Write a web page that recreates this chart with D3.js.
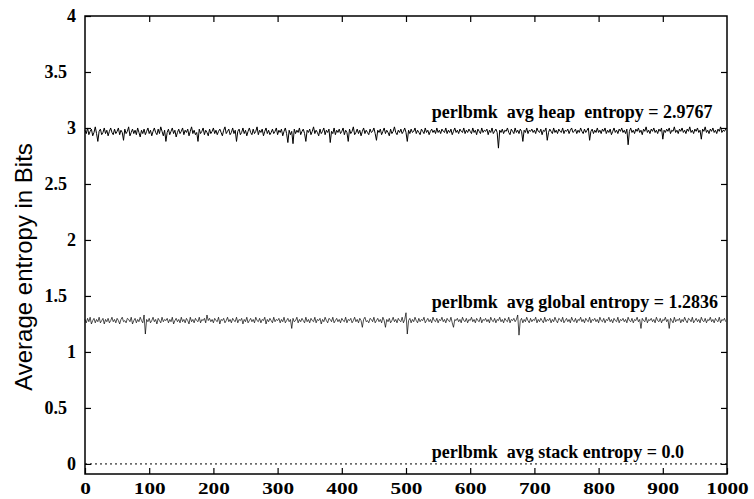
<!DOCTYPE html>
<html>
<head>
<meta charset="utf-8">
<script src="https://cdn.jsdelivr.net/npm/d3@7"></script>
<style>
  body { margin: 0; background: #fff; }
  svg { display: block; }
</style>
</head>
<body>
<div id="chart"></div>
<script>
'use strict';

// one sample every 2 units on the x axis (x = i * sampleStep)
var sampleStep = 2;

var heapValues = [
  2.98,2.95,3.00,2.94,2.97,2.99,2.93,2.96,3.01,2.95,2.88,2.97,2.99,2.94,2.96,3.00,2.95,2.98,2.93,2.97,3.00,2.96,2.94,2.99,2.95,
  2.97,3.00,2.94,2.98,2.96,2.89,2.99,2.95,2.97,3.01,2.93,2.96,2.99,2.95,2.98,2.94,3.00,2.96,2.92,2.98,2.95,2.99,2.94,2.97,3.00,
  2.95,2.98,2.93,2.97,3.00,2.96,2.94,2.99,2.95,3.01,2.97,2.93,2.98,2.88,2.96,2.99,2.94,2.97,3.00,2.95,2.98,2.92,2.96,2.99,2.95,
  2.97,3.00,2.94,2.98,2.96,2.99,2.93,2.97,3.01,2.95,2.98,2.94,2.96,2.88,2.99,2.95,2.97,3.00,2.94,2.98,2.96,2.93,2.99,2.95,2.97,
  3.00,2.95,2.98,2.94,2.97,2.99,2.96,2.93,2.98,3.01,2.95,2.97,2.99,2.94,2.96,3.00,2.95,2.98,2.88,2.97,2.99,2.94,2.96,3.00,2.95,
  2.98,2.93,2.97,3.00,2.96,2.94,2.99,2.95,2.97,3.01,2.94,2.98,2.96,2.99,2.93,2.97,3.00,2.95,2.98,2.94,2.96,2.99,2.95,2.97,3.00,
  2.94,2.98,2.96,2.99,2.93,2.97,3.00,2.95,2.87,2.98,2.94,2.97,2.86,2.99,2.95,2.98,2.96,3.00,2.94,2.97,2.99,2.95,2.88,2.98,2.96,
  2.99,2.94,2.97,3.01,2.95,2.98,2.96,2.93,2.99,2.95,2.97,3.00,2.94,2.98,2.96,2.99,2.87,2.97,2.95,3.00,2.94,2.98,2.96,2.99,2.95,
  2.97,3.00,2.94,2.98,2.96,2.88,2.99,2.95,2.97,3.01,2.94,2.96,2.99,2.95,2.98,2.93,2.97,3.00,2.95,2.98,2.96,2.94,2.99,2.96,2.97,
  3.00,2.95,2.89,2.98,2.96,2.99,2.94,2.97,3.00,2.95,2.98,2.96,2.93,2.99,2.95,2.97,3.01,2.96,2.94,2.98,2.96,2.99,2.95,2.97,3.00,
  2.96,2.88,2.98,2.95,2.99,2.96,2.97,3.00,2.95,2.98,2.96,2.94,2.99,2.97,2.95,3.00,2.96,2.98,2.94,2.97,2.99,2.96,2.98,2.95,3.00,
  2.96,2.98,2.95,2.99,2.97,2.96,3.00,2.95,2.98,2.96,2.99,2.94,2.97,3.00,2.96,2.98,2.95,2.99,2.97,2.96,3.00,2.95,2.98,2.96,2.99,
  2.97,2.95,3.00,2.96,2.98,2.94,2.99,2.97,2.95,3.00,2.96,2.98,2.97,2.99,2.94,2.98,2.96,3.00,2.95,2.97,2.99,2.96,2.82,2.98,2.96,
  2.99,2.95,2.98,2.97,3.00,2.96,2.94,2.99,2.97,2.95,3.00,2.96,2.98,2.95,2.99,2.97,2.88,2.98,2.96,3.00,2.95,2.98,2.97,2.99,2.96,
  2.98,2.95,3.00,2.97,2.96,2.99,2.94,2.98,2.97,3.00,2.89,2.96,2.99,2.97,2.95,3.00,2.96,2.98,2.95,2.99,2.97,2.96,3.00,2.95,2.98,
  2.97,2.99,2.95,2.98,3.00,2.96,2.97,2.99,2.95,2.98,2.96,3.00,2.97,2.95,2.99,2.96,2.98,3.00,2.89,2.97,2.99,2.95,2.98,2.96,3.00,
  2.96,2.98,2.95,2.99,2.97,3.00,2.95,2.98,2.96,2.99,2.94,2.97,3.00,2.96,2.98,2.95,2.99,2.97,3.00,2.96,2.98,2.95,2.99,2.85,2.97,
  3.00,2.96,2.98,2.95,2.99,2.97,3.00,2.96,2.98,2.94,2.99,2.97,3.01,2.96,2.98,2.95,2.99,2.97,3.00,2.96,2.98,2.95,2.99,2.97,3.00,
  2.90,2.98,2.96,2.99,2.97,3.00,2.95,2.98,2.97,3.01,2.96,2.98,2.95,2.99,2.97,3.00,2.96,2.98,2.95,2.99,2.97,3.01,2.96,2.98,2.95,
  2.99,2.97,3.00,2.96,2.98,2.90,2.99,2.97,3.01,2.96,2.98,2.95,2.99,2.97,3.00,2.96,2.98,2.95,2.99,2.97,3.01,2.96,2.98,2.97,2.99
];

var globalValues = [
  1.29,1.26,1.30,1.27,1.31,1.25,1.28,1.30,1.26,1.29,1.27,1.31,1.26,1.28,1.30,1.25,1.29,1.27,1.30,1.26,1.28,1.31,1.27,1.29,1.26,
  1.30,1.28,1.25,1.29,1.31,1.27,1.28,1.26,1.30,1.29,1.27,1.31,1.25,1.28,1.30,1.26,1.29,1.27,1.31,1.28,1.26,1.33,1.16,1.29,1.27,
  1.30,1.26,1.28,1.31,1.27,1.29,1.25,1.30,1.28,1.26,1.31,1.27,1.29,1.28,1.30,1.26,1.29,1.27,1.31,1.25,1.28,1.30,1.27,1.29,1.26,
  1.31,1.27,1.29,1.26,1.30,1.28,1.25,1.31,1.27,1.29,1.26,1.30,1.28,1.27,1.31,1.26,1.29,1.28,1.30,1.26,1.33,1.28,1.30,1.27,1.29,
  1.26,1.30,1.28,1.27,1.31,1.25,1.29,1.28,1.30,1.26,1.28,1.31,1.27,1.29,1.26,1.30,1.28,1.27,1.31,1.26,1.29,1.28,1.30,1.25,1.29,
  1.27,1.31,1.26,1.28,1.30,1.27,1.29,1.26,1.31,1.28,1.27,1.30,1.26,1.29,1.28,1.31,1.25,1.29,1.27,1.30,1.28,1.26,1.31,1.27,1.29,
  1.28,1.30,1.26,1.29,1.27,1.31,1.26,1.28,1.30,1.27,1.29,1.21,1.30,1.27,1.28,1.31,1.26,1.29,1.27,1.30,1.28,1.26,1.31,1.27,1.29,
  1.26,1.30,1.28,1.27,1.31,1.26,1.29,1.28,1.30,1.25,1.29,1.27,1.31,1.28,1.26,1.30,1.29,1.27,1.31,1.26,1.28,1.30,1.27,1.29,1.26,
  1.30,1.28,1.27,1.31,1.26,1.29,1.28,1.30,1.26,1.28,1.31,1.27,1.29,1.26,1.30,1.28,1.22,1.29,1.31,1.27,1.28,1.26,1.30,1.29,1.27,
  1.31,1.26,1.28,1.30,1.27,1.29,1.26,1.31,1.28,1.22,1.29,1.27,1.30,1.26,1.28,1.31,1.27,1.29,1.26,1.30,1.28,1.27,1.31,1.26,1.29,
  1.35,1.16,1.28,1.30,1.26,1.29,1.27,1.31,1.28,1.26,1.30,1.27,1.29,1.28,1.31,1.26,1.28,1.30,1.27,1.29,1.26,1.31,1.28,1.27,1.30,
  1.26,1.29,1.28,1.31,1.27,1.29,1.26,1.30,1.28,1.27,1.31,1.26,1.22,1.29,1.28,1.30,1.27,1.29,1.26,1.31,1.28,1.27,1.30,1.26,1.29,
  1.28,1.31,1.27,1.29,1.26,1.30,1.28,1.27,1.31,1.26,1.29,1.28,1.30,1.27,1.29,1.26,1.31,1.28,1.27,1.30,1.26,1.29,1.28,1.31,1.27,
  1.29,1.26,1.30,1.28,1.27,1.31,1.26,1.29,1.28,1.30,1.27,1.29,1.33,1.15,1.28,1.30,1.26,1.29,1.27,1.31,1.28,1.26,1.30,1.27,1.29,
  1.28,1.31,1.26,1.29,1.27,1.30,1.28,1.26,1.31,1.27,1.29,1.28,1.30,1.26,1.29,1.27,1.31,1.28,1.26,1.30,1.29,1.27,1.31,1.26,1.28,
  1.30,1.27,1.29,1.26,1.31,1.28,1.27,1.30,1.26,1.29,1.28,1.31,1.27,1.29,1.26,1.30,1.28,1.27,1.31,1.26,1.29,1.28,1.30,1.27,1.29,
  1.26,1.31,1.28,1.27,1.30,1.26,1.29,1.28,1.31,1.27,1.29,1.26,1.30,1.28,1.27,1.31,1.26,1.29,1.28,1.30,1.27,1.29,1.26,1.31,1.28,
  1.27,1.30,1.26,1.29,1.28,1.31,1.27,1.29,1.21,1.30,1.28,1.27,1.31,1.26,1.29,1.28,1.30,1.27,1.29,1.26,1.31,1.28,1.27,1.30,1.26,
  1.29,1.28,1.31,1.27,1.29,1.21,1.30,1.28,1.26,1.31,1.27,1.29,1.28,1.30,1.26,1.29,1.27,1.31,1.28,1.26,1.30,1.29,1.27,1.31,1.26,
  1.28,1.30,1.27,1.29,1.26,1.31,1.28,1.27,1.30,1.26,1.29,1.28,1.31,1.27,1.29,1.26,1.30,1.28,1.27,1.31,1.26,1.29,1.28,1.30,1.27
];

// stack entropy is flat zero over the whole run
var stackX = [0, 1000];
var stackValues = [0, 0];

var seriesLabels = [
  'perlbmk  avg heap  entropy = 2.9767',
  'perlbmk  avg global entropy = 1.2836',
  'perlbmk  avg stack entropy = 0.0'
];
var labelValues = [3.085, 1.395, 0.05];

var xTicks = [0, 100, 200, 300, 400, 500, 600, 700, 800, 900, 1000];
var yTicks = [0, 0.5, 1, 1.5, 2, 2.5, 3, 3.5, 4];

var width = 754, height = 499;
var plotLeft = 85, plotRight = 727, plotTop = 16, plotBottom = 474;
var serif = '"Liberation Serif", "Times New Roman", serif';

var svg = d3.select('#chart').append('svg')
  .attr('width', width)
  .attr('height', height);

var x = d3.scaleLinear().domain([0, 1000]).range([plotLeft, plotRight]);
var y = d3.scaleLinear().domain([-0.09, 4]).range([plotBottom, plotTop]);

/*
  series lines
*/
var line = d3.line()
  .x(function(d, i) { return x(i * sampleStep); })
  .y(function(d) { return y(d); });

svg.append('path')
  .datum(heapValues)
  .attr('d', line)
  .style('fill', 'none')
  .style('stroke', '#000')
  .style('stroke-width', 1);

svg.append('path')
  .datum(globalValues)
  .attr('d', line)
  .style('fill', 'none')
  .style('stroke', '#000')
  .style('stroke-width', 0.7);

svg.append('path')
  .datum(stackValues)
  .attr('d', d3.line()
    .x(function(d, i) { return x(stackX[i]); })
    .y(function(d) { return y(d); }))
  .style('fill', 'none')
  .style('stroke', '#000')
  .style('stroke-width', 1)
  .style('stroke-dasharray', '2, 3');

/*
  axes, ticks pointing inward on all four sides
*/
var xAxis = svg.append('g')
  .attr('transform', 'translate(0,' + plotBottom + ')')
  .call(d3.axisBottom(x).tickValues(xTicks).tickSize(-6).tickPadding(8).tickFormat(d3.format('d')));

svg.append('g')
  .attr('transform', 'translate(0,' + plotTop + ')')
  .call(d3.axisTop(x).tickValues(xTicks.slice(1, -1)).tickSize(-6).tickFormat(''));

var yAxis = svg.append('g')
  .attr('transform', 'translate(' + plotLeft + ',0)')
  .call(d3.axisLeft(y).tickValues(yTicks).tickSize(-6).tickPadding(9).tickFormat(function(d) { return String(d); }));

svg.append('g')
  .attr('transform', 'translate(' + plotRight + ',0)')
  .call(d3.axisRight(y).tickValues(yTicks.slice(0, -1)).tickSize(-6).tickFormat(''));

svg.selectAll('.domain').remove();
svg.selectAll('.tick line').style('stroke', '#000').style('stroke-width', 1.2);

// the original output is a little wider than tall, stretch the x labels
xAxis.selectAll('text')
  .style('font-family', serif)
  .style('font-weight', 'bold')
  .style('font-size', '17px')
  .style('fill', '#000')
  .attr('transform', 'scale(1.25,1)');

yAxis.selectAll('text')
  .style('font-family', serif)
  .style('font-weight', 'bold')
  .style('font-size', '18px')
  .style('fill', '#000')
  .attr('x', function(d) { return d % 1 ? -18 : -9; });

// frame
svg.append('rect')
  .attr('x', plotLeft)
  .attr('y', plotTop)
  .attr('width', plotRight - plotLeft)
  .attr('height', plotBottom - plotTop)
  .style('fill', 'none')
  .style('stroke', '#000')
  .style('stroke-width', 1.5);

// series labels
svg.selectAll('.series-label')
  .data(seriesLabels)
  .enter()
  .append('text')
  .attr('class', 'series-label')
  .attr('x', x(540))
  .attr('y', function(d, i) { return y(labelValues[i]); })
  .style('white-space', 'pre')
  .style('font-family', serif)
  .style('font-weight', 'bold')
  .style('font-size', '18px')
  .text(function(d) { return d; });

// y axis title
svg.append('text')
  .attr('transform', 'translate(32,267) rotate(-90)')
  .attr('text-anchor', 'middle')
  .style('font-family', '"Liberation Sans", Arial, sans-serif')
  .style('font-size', '24px')
  .text('Average entropy in Bits');
</script>
</body>
</html>
